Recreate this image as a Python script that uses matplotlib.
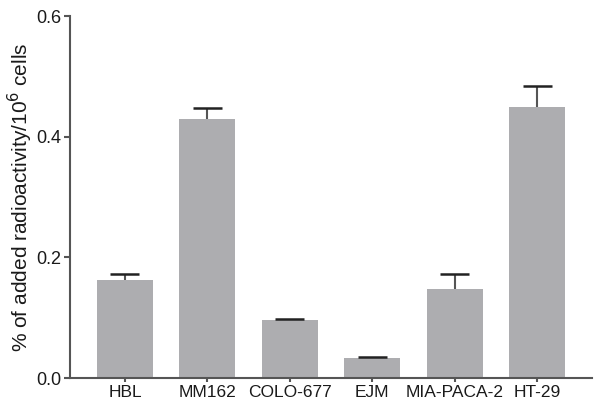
import matplotlib
matplotlib.use("Agg")
import matplotlib.pyplot as plt
import numpy as np

categories = ["HBL", "MM162", "COLO-677", "EJM", "MIA-PACA-2", "HT-29"]
values = [0.162, 0.430, 0.097, 0.033, 0.148, 0.450]
errors = [0.011, 0.018, 0.0015, 0.0025, 0.025, 0.034]

plt.rcParams['font.family'] = ['Liberation Sans', 'DejaVu Sans']

fig = plt.figure(figsize=(6.06, 4.04), dpi=100)
ax = fig.add_axes([0.1155, 0.064, 0.8615, 0.896])

x = np.arange(len(categories))
v = np.array(values)
e = np.array(errors)
ax.bar(x, v, width=0.68, color="#adadb0", zorder=2)
# upper error line only
ax.vlines(x, v, v + e, color="#555555", linewidth=1.5, zorder=3)
# caps
ax.hlines(v + e, x - 0.176, x + 0.176, color="#222222", linewidth=1.8, zorder=4)

ax.set_xlim(-0.667, len(categories) - 1 + 0.667)
ax.set_ylim(0, 0.6)
ax.set_yticks([0.0, 0.2, 0.4, 0.6])
ax.set_yticklabels(["0.0", "0.2", "0.4", "0.6"])
ax.set_xticks(x)
ax.set_xticklabels(categories)

for s in ["top", "right"]:
    ax.spines[s].set_visible(False)
for s in ["left", "bottom"]:
    ax.spines[s].set_color("#555555")
    ax.spines[s].set_linewidth(1.5)

ax.tick_params(axis='both', colors="#555555", labelcolor="#1a1a1a", labelsize=13,
               width=1.5, length=4, direction='out', pad=2)
ax.tick_params(axis='x', labelsize=12.5, length=3, pad=2)
ax.set_ylabel("% of added radioactivity/10$^{6}$ cells", fontsize=15, color="#1a1a1a", labelpad=1)

fig.savefig("out.png", dpi=100)
